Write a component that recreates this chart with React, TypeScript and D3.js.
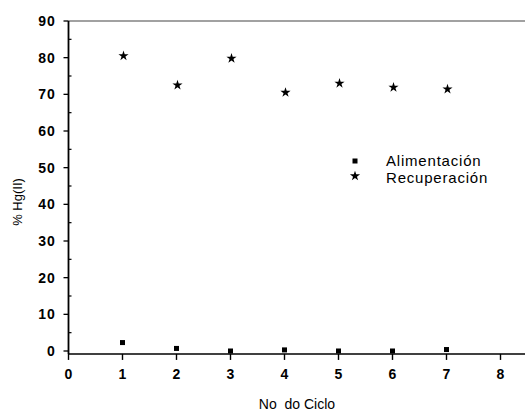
import React from "react";
import * as d3 from "d3";

const cycles = [1, 2, 3, 4, 5, 6, 7];
const alimentacion = [2.3, 0.7, 0.0, 0.3, 0.0, 0.0, 0.4];
const recuperacion = [80.5, 72.5, 79.8, 70.5, 73.0, 71.9, 71.4];
const xTicks = [0, 1, 2, 3, 4, 5, 6, 7, 8];
const yTicks = [0, 10, 20, 30, 40, 50, 60, 70, 80, 90];
const yMinor = [5, 15, 25, 35, 45, 55, 65, 75, 85];
const seriesNames = ["Alimentación", "Recuperación"];

const W = 525;
const H = 412;
const FONT = "'Liberation Sans', Arial, Helvetica, sans-serif";

export default function App() {
  const x = d3.scaleLinear().domain([0, 8]).range([68.5, 500.5]);
  const y = d3.scaleLinear().domain([0, 90]).range([351, 21]);
  const axisY = y(-0.8);
  const star = d3.symbol().type(d3.symbolStar).size(32)() as string;
  const x0 = x(0);

  return (
    <svg
      width={W}
      height={H}
      style={{ position: "absolute", left: 0, top: 0, background: "#fff" }}
      fontFamily={FONT}
    >
      <rect x={0} y={0} width={W} height={H} fill="#fff" />
      {/* top frame line */}
      <line x1={x0} x2={W} y1={y(90)} y2={y(90)} stroke="#444" strokeWidth={1.2} />
      {/* y axis */}
      <line x1={x0} x2={x0} y1={y(90)} y2={axisY} stroke="#000" strokeWidth={1.8} />
      {yTicks.map((t) => (
        <g key={"yt" + t}>
          <line x1={x0 - 5} x2={x0} y1={y(t)} y2={y(t)} stroke="#000" strokeWidth={1.3} />
          <text
            x={x0 - 13}
            y={y(t) + 5}
            textAnchor="end"
            fontSize={14}
            fontWeight="bold"
            letterSpacing={0.8}
            fill="#000"
          >
            {t}
          </text>
        </g>
      ))}
      {yMinor.map((t) => (
        <line key={"ym" + t} x1={x0} x2={x0 + 3} y1={y(t)} y2={y(t)} stroke="#000" strokeWidth={1.2} />
      ))}
      {/* x axis */}
      <line x1={x0} x2={W} y1={axisY} y2={axisY} stroke="#000" strokeWidth={1.6} />
      {xTicks.map((t) => (
        <g key={"xt" + t}>
          <line x1={x(t)} x2={x(t)} y1={axisY} y2={axisY + 6} stroke="#000" strokeWidth={1.4} />
          <text
            x={x(t)}
            y={379}
            textAnchor="middle"
            fontSize={14}
            fontWeight="bold"
            fill="#000"
          >
            {t}
          </text>
        </g>
      ))}
      {/* axis titles */}
      <text x={297} y={409} textAnchor="middle" fontSize={14} fill="#000">
        No{"\u00a0\u00a0"}do Ciclo
      </text>
      <text
        transform={`translate(22,202) rotate(-90)`}
        textAnchor="middle"
        fontSize={13}
        fill="#000"
      >
        % Hg(II)
      </text>
      {/* data */}
      {cycles.map((c, i) => (
        <rect
          key={"a" + c}
          x={x(c) - 2.5}
          y={y(alimentacion[i]) - 2.5}
          width={5}
          height={5}
          fill="#000"
        />
      ))}
      {cycles.map((c, i) => (
        <path
          key={"r" + c}
          d={star}
          transform={`translate(${x(c) + 1},${y(recuperacion[i])})`}
          fill="#000"
        />
      ))}
      {/* legend */}
      <rect x={352.5} y={158.5} width={5} height={5} fill="#000" />
      <path d={star} transform="translate(355,176)" fill="#000" />
      <text x={386} y={165.5} fontSize={15} letterSpacing={0.8} fill="#000">
        {seriesNames[0]}
      </text>
      <text x={386} y={182.5} fontSize={15} letterSpacing={0.8} fill="#000">
        {seriesNames[1]}
      </text>
    </svg>
  );
}
